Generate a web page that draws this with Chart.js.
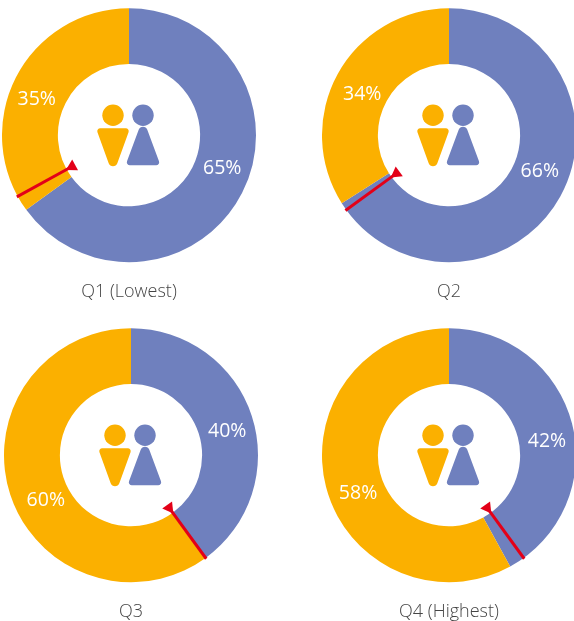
<!DOCTYPE html>
<html>
<head>
<meta charset="utf-8">
<script src="https://cdn.jsdelivr.net/npm/chart.js@4"></script>
<style>
  html, body { margin: 0; padding: 0; background: #fff; }
  body { position: relative; width: 574px; height: 621px; overflow: hidden; }
  canvas { position: absolute; }
</style>
</head>
<body>
<canvas id="q1" width="254" height="300" style="left:2px;top:8px"></canvas>
<canvas id="q2" width="254" height="300" style="left:322px;top:8px"></canvas>
<canvas id="q3" width="254" height="300" style="left:4px;top:328px"></canvas>
<canvas id="q4" width="254" height="300" style="left:322px;top:328px"></canvas>
<script>
const canvasIds = ['q1', 'q2', 'q3', 'q4'];
const captions = ['Q1 (Lowest)', 'Q2', 'Q3', 'Q4 (Highest)'];
const blueShares = [65, 66, 40, 42];
const orangeShares = [35, 34, 60, 58];
const markerShares = [67, 65, 40, 40]; // where the red arrow sits, % clockwise from 12 o'clock

const BLUE = '#6F80BE';
const ORANGE = '#FBB000';
const RED = '#E30018';
const FONT = '"Open Sans", sans-serif';

// labels don't sit exactly mid-slice in the original, so nudge them [x, y]
const labelNudges = [
  [[5, -12], [-4, 9]],
  [[4, -11], [0, 7]],
  [[2, 7], [9, 15]],
  [[2, 11], [5, 14]]
];

function roundedTriangle(ctx, a, b, c, rA, rB, rC) {
  ctx.beginPath();
  ctx.moveTo((a[0] + b[0]) / 2, (a[1] + b[1]) / 2);
  ctx.arcTo(b[0], b[1], c[0], c[1], rB);
  ctx.arcTo(c[0], c[1], a[0], a[1], rC);
  ctx.arcTo(a[0], a[1], b[0], b[1], rA);
  ctx.closePath();
  ctx.fill();
}

function drawPeople(ctx, cx, cy) {
  // woman
  ctx.fillStyle = ORANGE;
  ctx.beginPath();
  ctx.arc(cx - 16, cy - 20, 10.7, 0, Math.PI * 2);
  ctx.fill();
  roundedTriangle(ctx, [cx - 33, cy - 7], [cx + 1, cy - 7], [cx - 16, cy + 40], 3, 3, 4.6);
  // man
  ctx.fillStyle = BLUE;
  ctx.beginPath();
  ctx.arc(cx + 14, cy - 20, 10.7, 0, Math.PI * 2);
  ctx.fill();
  roundedTriangle(ctx, [cx + 14, cy - 17], [cx + 31.5, cy + 30], [cx - 3.5, cy + 30], 4.6, 3, 3);
}

function drawMarker(ctx, arc, share) {
  const angle = share / 100 * Math.PI * 2 - Math.PI / 2;
  const ux = Math.cos(angle);
  const uy = Math.sin(angle);
  const rHead = 65;
  const rEnd = arc.outerRadius + 1;

  ctx.strokeStyle = RED;
  ctx.lineWidth = 3;
  ctx.beginPath();
  ctx.moveTo(arc.x + ux * rHead, arc.y + uy * rHead);
  ctx.lineTo(arc.x + ux * rEnd, arc.y + uy * rEnd);
  ctx.stroke();

  // triangle points outwards along the line
  const hx = arc.x + ux * rHead;
  const hy = arc.y + uy * rHead;
  ctx.fillStyle = RED;
  ctx.beginPath();
  for (let i = 0; i < 3; i++) {
    const t = angle + i * Math.PI * 2 / 3;
    ctx.lineTo(hx + Math.cos(t) * 7, hy + Math.sin(t) * 7);
  }
  ctx.closePath();
  ctx.fill();
}

const ringExtras = {
  id: 'ringExtras',
  afterDraw(chart, args, opts) {
    const ctx = chart.ctx;
    const arcs = chart.getDatasetMeta(0).data;
    const values = chart.data.datasets[0].data;

    ctx.save();
    drawPeople(ctx, arcs[0].x, arcs[0].y);
    drawMarker(ctx, arcs[0], opts.marker);

    ctx.fillStyle = '#fff';
    ctx.font = '500 19.5px ' + FONT;
    ctx.textAlign = 'center';
    ctx.textBaseline = 'middle';
    arcs.forEach((arc, i) => {
      const p = arc.getCenterPoint();
      ctx.fillText(values[i] + '%', p.x + opts.nudges[i][0], p.y + opts.nudges[i][1]);
    });
    ctx.restore();
  }
};

canvasIds.forEach((id, i) => {
  new Chart(document.getElementById(id), {
    type: 'doughnut',
    plugins: [ringExtras],
    data: {
      labels: ['Blue', 'Orange'],
      datasets: [{
        data: [blueShares[i], orangeShares[i]],
        backgroundColor: [BLUE, ORANGE],
        borderWidth: 0
      }]
    },
    options: {
      responsive: false,
      animation: false,
      cutout: '56%',
      layout: { padding: 0 },
      plugins: {
        legend: { display: false },
        tooltip: { enabled: false },
        title: {
          display: true,
          position: 'bottom',
          text: captions[i],
          color: '#454545',
          font: { family: FONT, size: 18, weight: '300' },
          padding: { top: 19, bottom: 5 }
        },
        ringExtras: { marker: markerShares[i], nudges: labelNudges[i] }
      }
    }
  });
});
</script>
</body>
</html>
